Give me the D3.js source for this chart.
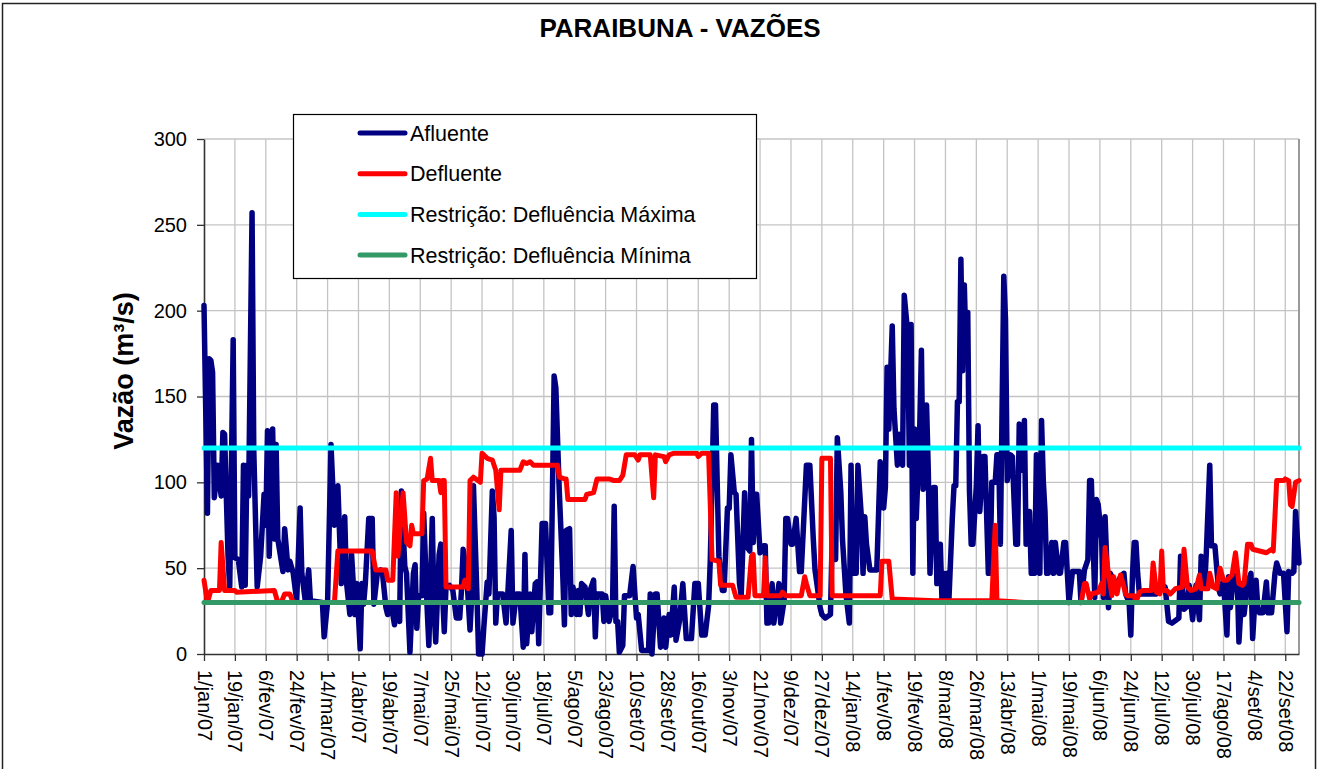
<!DOCTYPE html>
<html>
<head>
<meta charset="utf-8">
<script src="https://cdn.jsdelivr.net/npm/d3@7"></script>
<style>
  body { margin: 0; background: #fff; }
  svg  { display: block; font-family: "Liberation Sans", Arial, sans-serif; }
</style>
</head>
<body>
<svg id="chart" width="1323" height="769"></svg>
<script>
// ---- data (day = days since 1/jan/07, value = m3/s) ----
const START_DATE = '2007-01-01';
const LAST_DAY   = 638;   // 30/set/08
const TICK_STEP  = 18;    // one category label every 18 days
const Y_TICKS    = [0, 50, 100, 150, 200, 250, 300];
const MONTHS_PT  = ['jan', 'fev', 'mar', 'abr', 'mai', 'jun', 'jul', 'ago', 'set', 'out', 'nov', 'dez'];

const afluente = [
  [0,203],[2,82],[3,172],[4,171],[5,164],[6,91],[8,110],[10,92],[11,129],[12,128],[14,57],[15,39],
  [17,183],[18,56],[20,55],[22,39],[23,110],[24,40],[25,110],[26,92],[28,257],[29,119],[31,39],[33,57],
  [35,93],[36,75],[37,130],[38,57],[40,131],[41,67],[42,122],[43,67],[46,48],[47,73],[49,49],[50,54],
  [52,47],[54,31],[56,85],[57,47],[59,31],[61,49],[62,31],[69,30],[70,10],[72,30],[74,122],[76,75],
  [78,98],[80,41],[82,80],[83,42],[85,23],[86,58],[88,23],[89,41],[91,3],[92,41],[93,29],[94,41],
  [96,79],[98,79],[99,29],[101,47],[103,49],[104,47],[106,27],[107,23],[109,29],[111,17],[112,29],[114,19],
  [115,95],[117,51],[118,47],[120,1],[122,47],[123,52],[124,15],[125,34],[127,34],[128,82],[130,27],[131,5],
  [133,79],[134,27],[135,7],[137,58],[138,64],[139,35],[140,13],[141,39],[143,40],[145,37],[147,21],[149,21],
  [150,37],[151,61],[153,47],[155,14],[156,34],[157,98],[159,35],[160,0],[162,0],[163,15],[165,42],[166,35],
  [168,95],[169,80],[170,18],[171,35],[174,35],[176,18],[177,35],[179,72],[180,18],[182,35],[184,35],[186,4],
  [187,58],[188,6],[190,35],[191,13],[193,41],[194,42],[195,6],[197,76],[199,76],[201,24],[202,24],[204,162],
  [205,155],[207,95],[209,47],[210,17],[211,72],[213,73],[214,23],[215,39],[217,23],[218,37],[219,23],[220,41],
  [222,39],[224,23],[225,37],[227,43],[228,10],[229,35],[232,35],[233,19],[234,34],[236,19],[238,27],[239,86],
  [240,19],[241,19],[242,1],[244,5],[245,34],[248,34],[250,51],[252,21],[253,23],[255,2],[259,2],[260,35],
  [261,0],[263,35],[264,35],[266,4],[268,21],[269,4],[271,23],[272,11],[274,39],[275,8],[277,19],[279,41],
  [281,9],[284,9],[286,41],[288,41],[290,11],[292,11],[294,28],[295,55],[297,145],[298,145],[300,57],[302,37],
  [303,37],[305,85],[306,85],[307,116],[309,94],[310,93],[312,41],[313,34],[315,94],[316,63],[318,60],[319,125],
  [320,65],[321,93],[322,93],[324,59],[326,63],[327,63],[328,18],[329,18],[331,41],[332,18],[335,41],[336,18],
  [338,31],[339,79],[340,79],[342,64],[343,64],[345,79],[347,48],[348,48],[351,110],[353,110],[355,67],[356,49],
  [359,27],[360,23],[362,21],[365,23],[366,67],[368,55],[369,126],[371,95],[372,67],[374,35],[376,18],[377,110],
  [378,47],[380,47],[381,110],[383,80],[384,47],[385,80],[386,64],[388,49],[392,49],[394,112],[395,101],[396,85],
  [397,97],[398,167],[399,131],[401,191],[402,143],[404,110],[405,128],[407,110],[408,209],[410,187],[411,110],[412,192],
  [413,47],[414,131],[415,79],[417,131],[418,177],[419,96],[421,145],[422,107],[423,47],[425,97],[426,97],[427,41],
  [428,64],[429,64],[430,31],[431,47],[432,31],[433,47],[434,31],[436,79],[437,98],[438,98],[439,147],[440,147],
  [441,230],[442,165],[443,215],[444,176],[445,199],[446,95],[447,64],[448,64],[450,98],[451,133],[452,83],[454,115],
  [455,115],[457,47],[458,47],[459,100],[461,100],[462,116],[463,116],[464,64],[466,220],[467,195],[468,101],[470,116],
  [471,115],[473,64],[474,64],[475,134],[477,107],[478,136],[479,64],[481,83],[482,47],[484,47],[485,116],[487,47],
  [488,136],[489,101],[490,83],[491,47],[492,47],[494,65],[495,47],[496,65],[498,47],[499,47],[501,65],[502,65],
  [504,30],[506,48],[510,48],[511,30],[513,49],[515,55],[516,101],[517,101],[519,33],[520,90],[521,87],[523,67],
  [524,33],[525,80],[527,27],[528,47],[530,43],[532,41],[534,45],[536,47],[537,35],[539,30],[540,11],[541,47],
  [542,65],[543,65],[544,47],[545,35],[555,35],[558,40],[560,39],[562,19],[564,18],[568,21],[569,57],[571,26],
  [573,28],[574,40],[576,20],[578,40],[580,20],[581,57],[583,39],[584,59],[586,110],[587,63],[589,63],[591,39],
  [592,35],[594,42],[596,11],[597,45],[598,27],[600,46],[602,45],[603,7],[605,41],[606,23],[608,41],[610,47],
  [611,9],[613,43],[614,27],[615,24],[617,24],[619,42],[620,24],[622,24],[624,47],[625,53],[627,47],[629,47],
  [631,13],[632,48],[634,47],[635,48],[636,83],[638,53]
];

const defluente = [
  [0,43],[2,30],[4,37],[9,37],[10,65],[12,37],[18,37],[19,36],[41,37],[43,30],[45,30],[47,35],
  [50,35],[52,30],[76,30],[78,60],[98,60],[100,49],[106,49],[107,43],[110,43],[112,94],[113,57],[116,94],
  [118,65],[120,63],[121,75],[122,70],[127,70],[128,101],[130,102],[132,114],[133,101],[137,101],[138,94],[139,101],
  [140,101],[141,39],[151,39],[152,43],[154,38],[155,101],[157,103],[161,100],[162,117],[165,114],[168,113],[170,107],
  [172,84],[173,107],[184,107],[186,112],[188,111],[190,112],[192,110],[206,110],[207,103],[210,102],[211,102],[212,90],
  [222,90],[223,93],[227,94],[229,102],[236,102],[239,101],[242,101],[244,104],[246,116],[251,116],[253,113],[254,116],
  [260,116],[262,91],[263,116],[268,115],[269,112],[271,116],[274,117],[287,117],[288,115],[290,117],[294,117],[296,55],
  [300,54],[301,40],[308,40],[310,33],[317,33],[319,57],[320,58],[321,34],[326,34],[327,56],[328,34],[336,34],
  [337,36],[339,34],[348,34],[350,45],[351,41],[353,34],[359,34],[360,114],[365,114],[366,34],[394,34],[395,54],
  [399,54],[401,32],[426,31],[459,31],[461,75],[462,31],[478,30],[511,30],[513,41],[514,41],[516,32],[517,35],
  [521,36],[523,41],[524,35],[525,62],[527,47],[529,34],[530,45],[532,35],[534,46],[536,39],[537,35],[538,34],
  [542,34],[543,30],[545,36],[547,37],[552,37],[553,53],[555,36],[557,35],[558,60],[559,37],[561,37],[563,35],
  [566,38],[570,39],[571,61],[573,39],[575,37],[578,38],[580,46],[581,38],[585,38],[586,47],[588,39],[590,38],
  [592,50],[594,43],[596,43],[599,46],[601,59],[603,41],[605,40],[606,41],[608,64],[610,64],[611,61],[615,60],
  [619,59],[622,61],[623,60],[625,101],[629,101],[630,102],[632,101],[633,87],[634,86],[636,100],[638,101]
];

const defluenciaMaxima = 120;
const defluenciaMinima = 30;

const SERIES_NAMES = ['Afluente', 'Defluente', 'Restrição: Defluência Máxima', 'Restrição: Defluência Mínima'];
const SERIES_COLORS = ['#000080', '#ff0000', '#00ffff', '#339966'];

// ---- layout ----
const PLOT = { left: 204, right: 1299, top: 139, bottom: 654 };

const ptBR = d3.timeFormatLocale({
  dateTime: '%d/%m/%Y %H:%M:%S', date: '%d/%m/%Y', time: '%H:%M:%S',
  periods: ['AM', 'PM'],
  days: ['domingo', 'segunda', 'terça', 'quarta', 'quinta', 'sexta', 'sábado'],
  shortDays: ['dom', 'seg', 'ter', 'qua', 'qui', 'sex', 'sáb'],
  months: ['janeiro', 'fevereiro', 'março', 'abril', 'maio', 'junho', 'julho', 'agosto', 'setembro', 'outubro', 'novembro', 'dezembro'],
  shortMonths: MONTHS_PT
});
const fmtTick = ptBR.utcFormat('%-d/%b/%y');

const start  = new Date(START_DATE + 'T00:00:00Z');
const toDate = day => d3.utcDay.offset(start, day);

const svg = d3.select('#chart');

// chart area border
svg.append('rect')
  .attr('x', 2.5).attr('y', 3.5)
  .attr('width', 1313).attr('height', 800)
  .attr('fill', '#fff').attr('stroke', '#222').attr('stroke-width', 1.5);

const x = d3.scaleUtc()
  .domain([start, toDate(LAST_DAY)])
  .range([PLOT.left, PLOT.right]);

const y = d3.scaleLinear()
  .domain([0, 300])
  .range([PLOT.bottom, PLOT.top]);

const tickDates = d3.utcDay.range(start, toDate(LAST_DAY), TICK_STEP);

// gridlines
const grid = svg.append('g').attr('class', 'grid')
  .attr('stroke', '#c4c4c4').attr('stroke-width', 1.3);

grid.selectAll('.gx')
  .data(tickDates.slice(1))
  .enter().append('line')
    .attr('x1', d => x(d)).attr('x2', d => x(d))
    .attr('y1', PLOT.top).attr('y2', PLOT.bottom);

grid.selectAll('.gy')
  .data(Y_TICKS.slice(1))
  .enter().append('line')
    .attr('x1', PLOT.left).attr('x2', PLOT.right)
    .attr('y1', d => y(d)).attr('y2', d => y(d));

// right frame of plot area
svg.append('line')
  .attr('x1', PLOT.right).attr('x2', PLOT.right)
  .attr('y1', PLOT.top).attr('y2', PLOT.bottom)
  .attr('stroke', '#9a9a9a').attr('stroke-width', 2);

// axes
const yAxis = svg.append('g')
  .attr('transform', `translate(${PLOT.left},0)`)
  .call(d3.axisLeft(y).tickValues(Y_TICKS).tickSize(7).tickSizeOuter(0).tickPadding(10));

const xAxis = svg.append('g')
  .attr('transform', `translate(0,${PLOT.bottom})`)
  .call(d3.axisBottom(x).tickValues(tickDates).tickFormat(fmtTick).tickSize(7).tickSizeOuter(0));

[yAxis, xAxis].forEach(g => {
  g.select('.domain').attr('stroke', '#333').attr('stroke-width', 1.6);
  g.selectAll('.tick line').attr('stroke', '#333').attr('stroke-width', 1.3);
  g.selectAll('text')
    .attr('fill', '#000')
    .style('font-family', '"Liberation Sans", Arial, sans-serif')
    .style('font-size', '20px');
});

xAxis.selectAll('text')
  .attr('transform', 'rotate(90)')
  .attr('x', 16).attr('y', 0)
  .attr('dy', '0.35em')
  .attr('text-anchor', 'start');

// series
const line = d3.line()
  .x(d => x(toDate(d[0])))
  .y(d => y(d[1]));

const seriesData = [
  afluente,
  defluente,
  [[0, defluenciaMaxima], [LAST_DAY, defluenciaMaxima]],
  [[0, defluenciaMinima], [LAST_DAY, defluenciaMinima]]
];

svg.append('g').attr('class', 'series')
  .selectAll('path')
  .data(seriesData)
  .enter().append('path')
    .attr('d', line)
    .attr('fill', 'none')
    .attr('stroke', (d, i) => SERIES_COLORS[i])
    .attr('stroke-width', (d, i) => i === 0 ? 5.5 : 5)
    .attr('stroke-linejoin', 'round')
    .attr('stroke-linecap', 'round');

// title
svg.append('text')
  .attr('x', 680).attr('y', 37)
  .attr('text-anchor', 'middle')
  .style('font-size', '26px').style('font-weight', 'bold')
  .text('PARAIBUNA - VAZÕES');

svg.append('text')
  .attr('transform', 'translate(133,371) rotate(-90)')
  .attr('text-anchor', 'middle')
  .style('font-size', '27px').style('font-weight', 'bold')
  .text('Vazão (m³/s)');

// legend
const legend = svg.append('g').attr('class', 'legend');
legend.append('rect')
  .attr('x', 293.5).attr('y', 114.5)
  .attr('width', 463).attr('height', 164)
  .attr('fill', '#fff').attr('stroke', '#000').attr('stroke-width', 1.2);

const items = legend.selectAll('.item')
  .data(SERIES_NAMES)
  .enter().append('g')
    .attr('class', 'item')
    .attr('transform', (d, i) => `translate(0,${133 + i * 40.7})`);

items.append('line')
  .attr('x1', 360).attr('x2', 405)
  .attr('stroke', (d, i) => SERIES_COLORS[i])
  .attr('stroke-width', 5)
  .attr('stroke-linecap', 'round');

items.append('text')
  .attr('x', 410).attr('dy', '0.35em')
  .style('font-size', '21.5px')
  .text(d => d);
</script>
</body>
</html>
